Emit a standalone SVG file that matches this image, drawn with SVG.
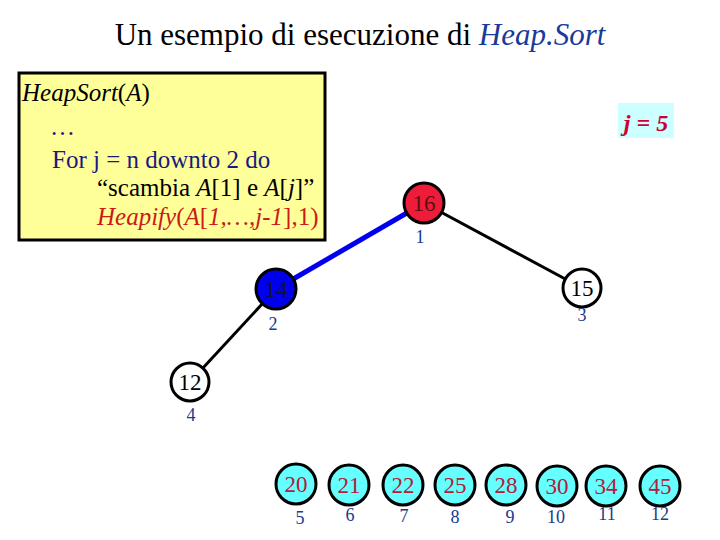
<svg xmlns="http://www.w3.org/2000/svg" width="720" height="540" viewBox="0 0 720 540">
<style>
text{font-family:'Liberation Serif','DejaVu Serif',serif}
.n{stroke:#000;stroke-width:3}
.v{font-size:23px;text-anchor:middle}
.i{font-size:18px;fill:#1a3a8a;text-anchor:middle}
.c{fill:#66ffff}
.cv{fill:#b0203a}
.k{font-size:25px}
</style>
<rect width="720" height="540" fill="#fff"/>
<text x="360" y="45" font-size="31" text-anchor="middle">Un esempio di esecuzione di <tspan fill="#1a3a9a" font-style="italic">Heap.Sort</tspan></text>
<g id="code">
<rect x="19" y="73" width="306" height="167" fill="#ffff99" stroke="#000" stroke-width="3"/>
<text class="k" x="22" y="101" font-style="italic">HeapSort<tspan font-style="normal">(</tspan>A<tspan font-style="normal">)</tspan></text>
<text class="k" x="50" y="135" fill="#1a1a80">…</text>
<text class="k" x="52" y="168" fill="#1a1a80">For j  = n downto 2 do</text>
<text class="k" x="97" y="196">“scambia <tspan font-style="italic">A</tspan>[1] e <tspan font-style="italic">A</tspan>[<tspan font-style="italic">j</tspan>]”</text>
<text class="k" x="97" y="225" fill="#cc1a1a"><tspan font-style="italic">Heapify</tspan>(<tspan font-style="italic">A</tspan>[<tspan font-style="italic">1,…,j-1</tspan>],1)</text>
</g>
<g id="jlabel">
<rect x="618" y="103" width="56" height="35" fill="#ccffff"/>
<text x="646" y="131" font-size="24" font-weight="bold" font-style="italic" fill="#cc0033" text-anchor="middle">j = 5</text>
</g>
<g id="edges">
<line x1="424" y1="203" x2="276" y2="289" stroke="#0000ee" stroke-width="5"/>
<line x1="424" y1="203" x2="582" y2="288" stroke="#000" stroke-width="3"/>
<line x1="276" y1="289" x2="190" y2="382" stroke="#000" stroke-width="3"/>
</g>
<g id="n1"><circle class="n" cx="424" cy="203" r="20" fill="#ee1c3a"/><text class="v" x="424" y="211" fill="#5a1010">16</text><text class="i" x="420" y="243">1</text></g>
<g id="n2"><circle class="n" cx="276" cy="289" r="20" fill="#0000ee"/><text class="v" x="276" y="297" fill="#101040">14</text><text class="i" x="273" y="330">2</text></g>
<g id="n3"><circle class="n" cx="582" cy="288" r="19" fill="#fff"/><text class="v" x="582" y="296">15</text><text class="i" x="582" y="321">3</text></g>
<g id="n4"><circle class="n" cx="190" cy="382" r="19" fill="#fff"/><text class="v" x="190" y="390">12</text><text class="i" x="191" y="421">4</text></g>
<g id="n5"><circle class="n c" cx="296" cy="484" r="20"/><text class="v cv" x="296" y="492">20</text><text class="i" x="300" y="524">5</text></g>
<g id="n6"><circle class="n c" cx="349" cy="485" r="20"/><text class="v cv" x="349" y="493">21</text><text class="i" x="350" y="521">6</text></g>
<g id="n7"><circle class="n c" cx="403" cy="485" r="20"/><text class="v cv" x="403" y="493">22</text><text class="i" x="404" y="522">7</text></g>
<g id="n8"><circle class="n c" cx="455" cy="485" r="20"/><text class="v cv" x="455" y="493">25</text><text class="i" x="455" y="523">8</text></g>
<g id="n9"><circle class="n c" cx="506" cy="485" r="20"/><text class="v cv" x="506" y="493">28</text><text class="i" x="510" y="523">9</text></g>
<g id="n10"><circle class="n c" cx="557" cy="486" r="20"/><text class="v cv" x="557" y="494">30</text><text class="i" x="556" y="523">10</text></g>
<g id="n11"><circle class="n c" cx="606" cy="486" r="20"/><text class="v cv" x="606" y="494">34</text><text class="i" x="607" y="520">11</text></g>
<g id="n12"><circle class="n c" cx="660" cy="486" r="20"/><text class="v cv" x="660" y="494">45</text><text class="i" x="660" y="520">12</text></g>
</svg>
